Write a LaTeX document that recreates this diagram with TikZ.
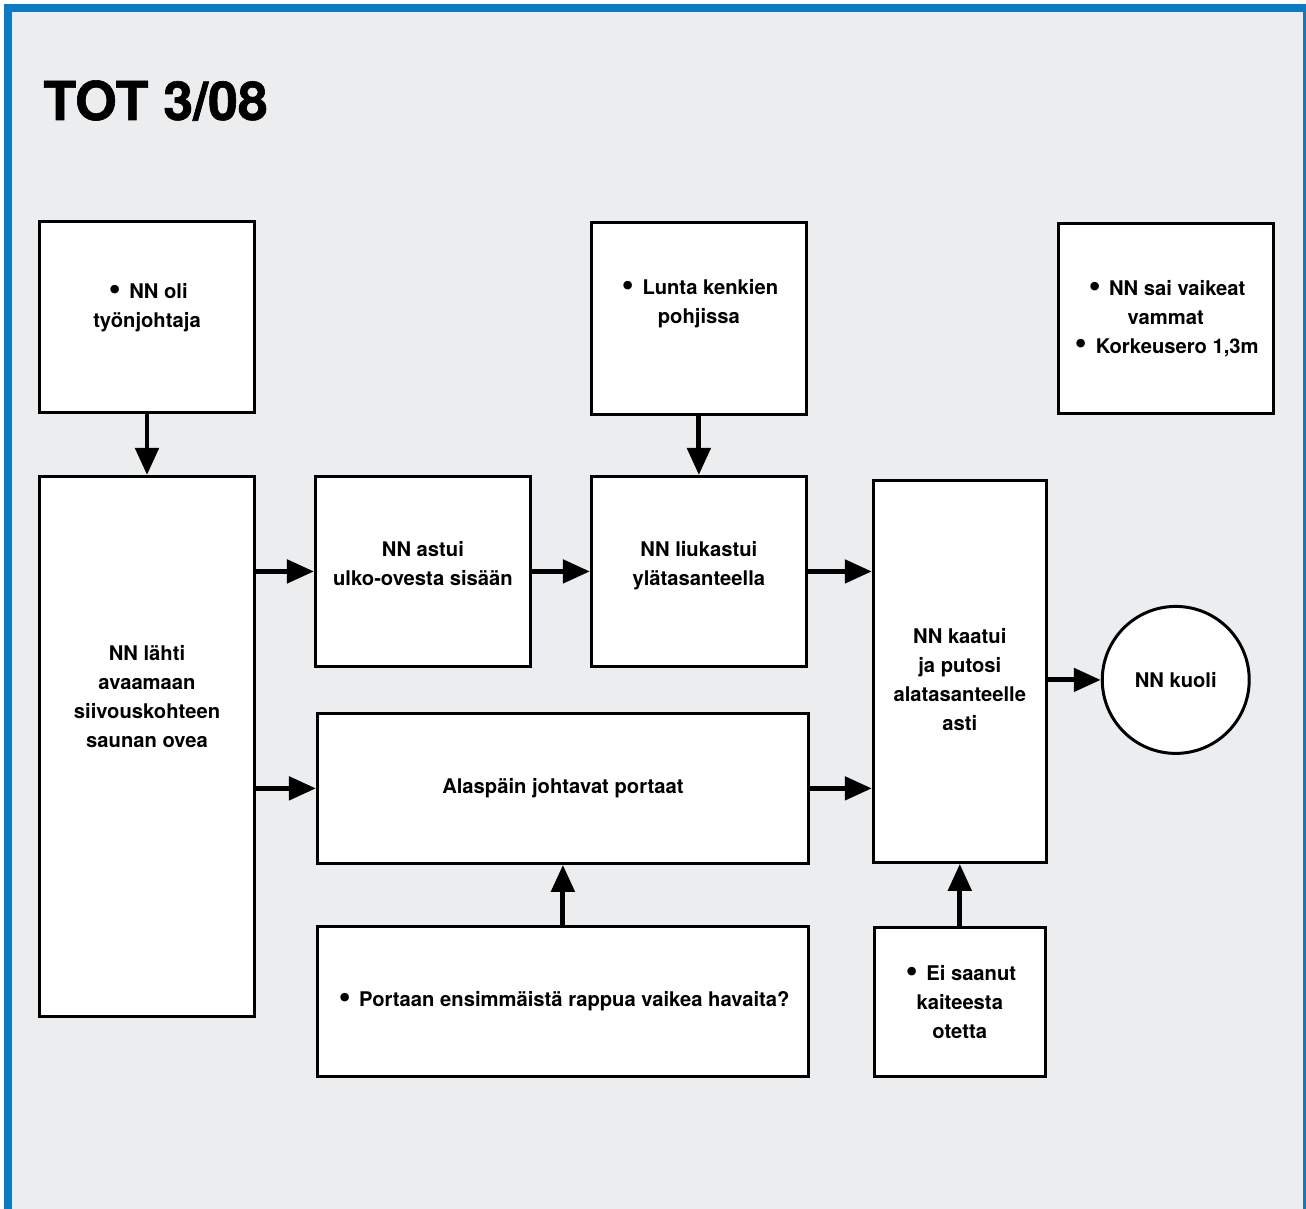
\documentclass[tikz,border=0pt]{standalone}
\usepackage{fontspec}
\usepackage{graphicx}
\setmainfont{TeX Gyre Heros}
\newfontfamily\bulletfont{DejaVu Sans}
\newfontfamily\titlefont[BoldFeatures={FakeBold=1.2}]{TeX Gyre Heros}
\newcommand{\bul}{\raisebox{-0.17ex}{\scalebox{1.45}{\bulletfont\mdseries\symbol{"2022}}}}
\usepackage{tikz}
\usetikzlibrary{arrows.meta,positioning}
\definecolor{frameblue}{HTML}{0A7CC5}
\definecolor{pagegray}{HTML}{ECEDEF}

\begin{document}
\begin{tikzpicture}[x=0.02cm,y=-0.02cm,
        -{Triangle[length=0.54cm,width=0.46cm]},line width=2.8pt,
        node distance=1.2cm]
        \tikzstyle{box}=[draw,line width=1.7pt,fill=white,rectangle,
            minimum width=4.3cm,minimum height=3.8cm,align=center,
            font=\bfseries\fontsize{11.5}{16.4}\selectfont]

        \useasboundingbox (0,0) rectangle (1306,1209);
        \clip (0,0) rectangle (1306,1209);
        \fill[frameblue] (4,4) rectangle (1330,1230);
        \fill[pagegray] (12,12) rectangle (1303,1230);

        \node[anchor=base west,inner sep=0pt,font=\titlefont\bfseries\fontsize{30.5}{33}\selectfont] (title) at (41,120) {TOT 3/08};

        \node[box,minimum height=3.82cm,text depth=0.47cm] (A) at (147,317) {\bul{} NN oli\\työnjohtaja};
        \node[box,minimum height=10.8cm,text depth=2cm] (B) [below=1.22cm of A]
            {NN lähti\\avaamaan\\siivouskohteen\\saunan ovea};
        \node[box,text depth=0.33cm] (C) [right=1.16cm of B.north east,anchor=north west] {NN astui\\ulko-ovesta sisään};
        \node[box,text depth=0.33cm] (E) [right=1.16cm of C] {NN liukastui\\ylätasanteella};
        \node[box,minimum height=3.84cm,text depth=0.67cm] (D) [above=1.18cm of E] {\bul{} Lunta kenkien\\pohjissa};
        \node[box,minimum height=3.82cm] (F) [right=4.98cm of D] {\bul{} NN sai vaikeat\\vammat\\\bul{} Korkeusero 1,3m};
        \node[box,minimum width=9.82cm,minimum height=3cm] (I) [below=0.88cm of C.south west,anchor=north west,xshift=0.04cm]
            {Alaspäin johtavat portaat};
        \node[box,minimum width=9.82cm,minimum height=3cm] (J) [below=1.2cm of I]
            {\bul{} Portaan ensimmäistä rappua vaikea havaita?};
        \node[box,minimum width=3.46cm,minimum height=7.64cm,text height=2.36cm] (G) [right=1.28cm of E.north east,anchor=north west,yshift=-0.08cm]
            {NN kaatui\\ja putosi\\alatasanteelle\\asti};
        \node[box,minimum width=3.42cm,minimum height=2.98cm] (K) [below=1.24cm of G]
            {\bul{} Ei saanut\\kaiteesta\\otetta};
        \node[box,circle,minimum size=2.94cm] (H) [right=1.06cm of G,yshift=-0.17cm] {NN kuoli};

        \draw (A) -- (B);
        \draw (B.east |- C) -- (C);
        \draw (B.east |- I) -- (I);
        \draw (C) -- (E);
        \draw (D) -- (E);
        \draw (E) -- (E.east -| G.west);
        \draw (I) -- (I.east -| G.west);
        \draw (J) -- (I);
        \draw (K) -- (G);
        \draw (G.east |- H) -- (H);
    \end{tikzpicture}
\end{document}
